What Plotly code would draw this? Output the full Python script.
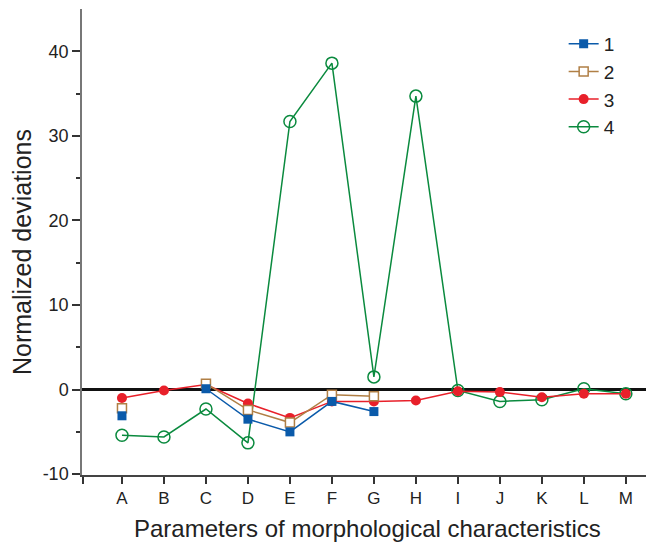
import plotly.graph_objects as go

categories = ["A", "B", "C", "D", "E", "F", "G", "H", "I", "J", "K", "L", "M"]
positions = list(range(1, 14))

y_tick_values = [-10, 0, 10, 20, 30, 40]
y_tick_labels = ["-10", "0", "10", "20", "30", "40"]

series1 = [-3.1, None, 0.1, -3.5, -5.0, -1.4, -2.6, None, None, None, None, None, None]
series2 = [-2.2, None, 0.7, -2.4, -3.9, -0.6, -0.8, None, None, None, None, None, None]
series3 = [-1.0, -0.1, 0.6, -1.65, -3.35, -1.4, -1.4, -1.3, -0.2, -0.3, -0.9, -0.5, -0.5]
series4 = [-5.4, -5.6, -2.3, -6.3, 31.7, 38.6, 1.5, 34.7, -0.1, -1.4, -1.2, 0.1, -0.5]

names = ["1", "2", "3", "4"]
colors = ["#0a5aaa", "#b07f45", "#e8202a", "#0a8a3e"]

fig = go.Figure()

# zero reference line
fig.add_shape(type="line", xref="paper", yref="y", x0=0, x1=1, y0=0, y1=0,
              line=dict(color="#111111", width=3), layer="below")

fig.add_trace(go.Scatter(x=positions, y=series4, name=names[3], mode="lines+markers",
                         line=dict(color=colors[3], width=1.5),
                         marker=dict(symbol="circle-open", size=12, color=colors[3], line=dict(width=1.5)),
                         cliponaxis=False))
fig.add_trace(go.Scatter(x=positions, y=series3, name=names[2], mode="lines+markers",
                         line=dict(color=colors[2], width=1.5),
                         marker=dict(symbol="circle", size=10, color=colors[2]),
                         cliponaxis=False))
fig.add_trace(go.Scatter(x=positions, y=series2, name=names[1], mode="lines+markers",
                         line=dict(color=colors[1], width=1.5),
                         marker=dict(symbol="square", size=9, color="white",
                                     line=dict(color=colors[1], width=1.5)),
                         cliponaxis=False))
fig.add_trace(go.Scatter(x=positions, y=series1, name=names[0], mode="lines+markers",
                         line=dict(color=colors[0], width=1.5),
                         marker=dict(symbol="square", size=9, color=colors[0]),
                         cliponaxis=False))

x_range = [0.048, 13.48]

fig.update_layout(
    width=646, height=542,
    margin=dict(l=82, r=0, t=9, b=67),
    plot_bgcolor="white", paper_bgcolor="white",
    font=dict(family="Liberation Sans, Arial, sans-serif", color="#222222", size=17),
    showlegend=True,
    legend=dict(x=0.854, y=0.966, xanchor="left", yanchor="top",
                traceorder="reversed", font=dict(size=19),
                bgcolor="rgba(0,0,0,0)"),
    xaxis=dict(
        range=x_range, tickmode="array",
        tickvals=[x_range[0] + 0.02] + positions, ticktext=[""] + categories,
        showgrid=False, zeroline=False, showline=True, linecolor="#444444", linewidth=1.5,
        ticks="outside", ticklen=7, tickcolor="#333333", tickwidth=1.5,
        tickfont=dict(size=17), automargin=False,
    ),
    yaxis=dict(
        range=[-10.1, 45.0], tickmode="array", tickvals=y_tick_values, ticktext=y_tick_labels,
        showgrid=False, zeroline=False, showline=True, linecolor="#777777", linewidth=1.5,
        ticks="outside", ticklen=8, tickcolor="#333333", tickwidth=1.5,
        minor=dict(tickvals=[-5, 5, 15, 25, 35], ticks="outside", ticklen=4, tickcolor="#333333", tickwidth=1.5),
        tickfont=dict(size=18), automargin=False,
    ),
    annotations=[
        dict(text="Parameters of morphological characteristics", xref="paper", yref="paper",
             x=(367 - 82) / 564, y=-(528 - 475) / 466, xanchor="center", yanchor="middle",
             showarrow=False, font=dict(size=24)),
        dict(text="Normalized deviations", xref="paper", yref="paper", textangle=-90,
             x=-(82 - 22) / 564, y=1 - (252 - 9) / 466, xanchor="center", yanchor="middle",
             showarrow=False, font=dict(size=25)),
    ],
)

fig.write_html("out.html", config={"displayModeBar": False},
               post_script="document.body.style.margin='0';document.body.style.overflow='hidden';")
